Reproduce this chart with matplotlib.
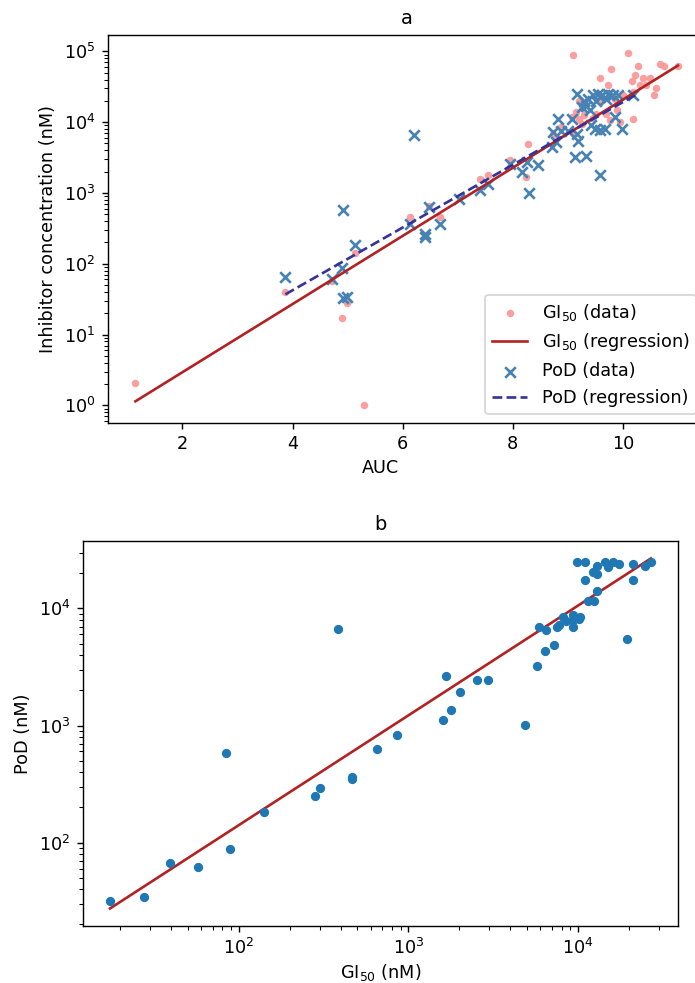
import numpy as np
import matplotlib
matplotlib.use("Agg")
import matplotlib.pyplot as plt

# panel a: GI50 values against AUC
gi_auc = [1.14, 3.87, 4.72, 4.90, 4.98, 5.13, 5.30, 6.13, 6.48, 6.67, 7.40, 7.55,
          7.95, 8.24, 8.28, 8.73, 8.79, 8.88, 9.07, 9.09, 10.09, 9.79, 10.27, 10.67,
          10.75, 11.0, 9.58, 9.73, 10.22, 10.16, 10.37, 10.49, 10.31, 10.43, 10.61,
          10.56, 10.19, 10.01, 10.19, 9.95, 9.70, 9.76, 9.52, 9.46, 9.20, 9.25, 9.15,
          9.30, 9.20, 9.25, 9.10, 9.60, 9.85, 9.90]
gi_conc = [2.1, 40, 58, 17.3, 28, 140, 1.0, 460, 650, 460, 1600, 1800,
           2950, 1670, 4900, 6900, 6200, 8500, 11700, 88000, 96000, 57000, 62000, 67000,
           63000, 63000, 42000, 33000, 46000, 38000, 42000, 42000, 33000, 33000, 30000,
           24000, 27000, 24000, 11000, 10000, 13000, 10700, 13000, 11300, 20000, 16000, 14000,
           12500, 11000, 9500, 7000, 20000, 21000, 15000]

# panel a: PoD values against AUC
pod_auc = [3.87, 4.91, 5.13, 4.72, 4.89, 4.91, 4.99, 6.21, 6.14, 6.48, 6.40, 6.40,
           6.68, 7.02, 7.40, 7.55, 7.95, 8.16, 8.25, 8.46, 8.29, 8.72, 8.79, 8.73,
           8.82, 8.88, 9.01, 9.07, 9.13, 9.34, 9.58, 9.16, 9.19, 9.17, 9.29, 9.37,
           9.46, 9.55, 9.63, 9.73, 9.82, 9.91, 9.52, 9.58, 9.70, 9.34, 9.41, 9.25,
           9.43, 9.49, 9.58, 9.67, 9.85, 9.99, 10.19]
pod_conc = [66, 580, 182, 61, 88, 33, 34, 6600, 370, 630, 265, 240,
            370, 830, 1100, 1350, 2600, 2000, 2700, 2450, 1000, 4500, 5200, 7200,
            11000, 7600, 7600, 11000, 3200, 3300, 1800, 6900, 5500, 25000, 19700, 21500,
            24000, 25000, 24000, 25000, 24000, 24500, 20000, 22500, 21500, 16700, 14700, 16300,
            9000, 8100, 7800, 8100, 11800, 8100, 24000]

# regression lines (end points)
gi_reg_auc = [1.145, 11.0]
gi_reg_conc = [1.14, 63000]
pod_reg_auc = [3.87, 10.22]
pod_reg_conc = [37, 24000]

# panel b: PoD against GI50
b_gi = [382, 84.6, 655, 464, 464, 303, 281, 17.4, 27.6, 39.2, 57.5, 88.5, 140,
        859, 1592, 1790, 1656, 2013, 2535, 2957, 4890, 5700, 6410, 7190, 5920,
        6440, 7480, 7760, 8130, 8460, 9380, 9380, 9380, 10280, 10140, 19540, 9820,
        11000, 11000, 12900, 12300, 12900, 12900, 11500, 12500, 14400, 16100, 17500,
        15100, 21200, 21200, 24800, 26900]
b_pod = [6670, 584, 630, 362, 348, 290, 248, 31.9, 34.5, 66.7, 61.7, 87.8, 182,
         826, 1120, 1361, 2640, 1928, 2440, 2440, 1003, 3210, 4370, 4910, 6930,
         6590, 6930, 7170, 8430, 7800, 8710, 7910, 6930, 8430, 8050, 5480, 24800,
         24800, 17500, 23200, 20400, 19700, 14000, 11500, 11500, 24800, 24800, 24000,
         22400, 24000, 17500, 22900, 24800]
b_reg_gi = [17.4, 26900]
b_reg_pod = [27.4, 26700]

DPI = 127
fig = plt.figure(figsize=(695 / DPI, 983 / DPI), dpi=DPI)

# ---- panel a
ax1 = fig.add_axes([0.1554, 0.5697, 0.859, 0.3947])
ax1.scatter(gi_auc, gi_conc, s=18, color="#f99595", alpha=0.9, linewidths=0,
            label=r"GI$_{\mathregular{50}}$ (data)")
ax1.plot(gi_reg_auc, gi_reg_conc, color="#b22222",
         label=r"GI$_{\mathregular{50}}$ (regression)")
ax1.scatter(pod_auc, pod_conc, marker="x", color="#4682b4",
            label="PoD (data)")
ax1.plot(pod_reg_auc, pod_reg_conc, color="#333399", ls="--",
         label="PoD (regression)")
ax1.set_yscale("log")
ax1.set_xlabel("AUC")
ax1.xaxis.set_label_coords(0.456, -0.093)
ax1.set_ylabel("Inhibitor concentration (nM)")
ax1.set_title("a", fontsize=11)
ax1.legend(loc="lower right")

# ---- panel b
ax2 = fig.add_axes([0.1194, 0.058, 0.856, 0.3917])
ax2.scatter(b_gi, b_pod, s=18, color="#1f77b4", zorder=3)
ax2.plot(b_reg_gi, b_reg_pod, color="#b22222")
ax2.set_xscale("log")
ax2.set_yscale("log")
ax2.set_xlabel(r"GI$_{\mathregular{50}}$ (nM)", labelpad=2)
ax2.set_ylabel("PoD (nM)")
ax2.set_title("b", fontsize=11)

fig.savefig("out.png", dpi=DPI)
